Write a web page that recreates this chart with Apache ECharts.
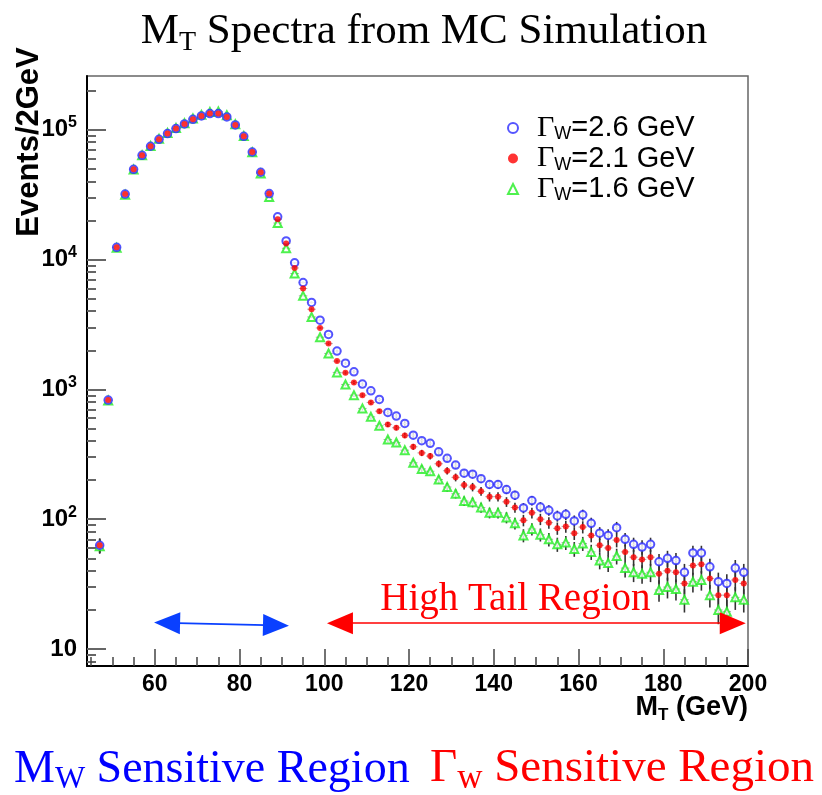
<!DOCTYPE html>
<html>
<head>
<meta charset="utf-8">
<script src="https://cdn.jsdelivr.net/npm/echarts@6/dist/echarts.min.js"></script>
<style>
  html, body { margin: 0; background: #fff; }
  #chart { width: 822px; height: 795px; }
</style>
</head>
<body>
<div id="chart"></div>
<script>
// bin centres (GeV), 2 GeV bins
const binCenters = [47, 49, 51, 53, 55, 57, 59, 61, 63, 65, 67, 69, 71, 73, 75, 77, 79, 81, 83, 85,
  87, 89, 91, 93, 95, 97, 99, 101, 103, 105, 107, 109, 111, 113, 115, 117, 119, 121, 123, 125,
  127, 129, 131, 133, 135, 137, 139, 141, 143, 145, 147, 149, 151, 153, 155, 157, 159, 161, 163, 165,
  167, 169, 171, 173, 175, 177, 179, 181, 183, 185, 187, 189, 191, 193, 195, 197, 199];

// events / 2 GeV for each W width
const gamma26 = [63, 826, 12400, 31900, 49500, 63500, 74500, 84300, 93300, 101900, 110600, 120200, 127500, 133000, 133000, 125300, 108700, 88900, 67300, 47000,
  32200, 21300, 13900, 9420, 6650, 4670, 3410, 2650, 1970, 1590, 1365, 1097, 975, 836, 664, 622, 546, 444, 402, 384,
  330, 294, 261, 226, 222, 205, 185, 185, 169, 153, 122, 139, 124, 117, 106, 109, 97, 108, 93, 78,
  75, 86, 70, 64, 61, 64, 47, 50, 48, 39, 55, 55, 43, 33, 32, 42, 39];
const gamma21 = [63, 826, 12400, 31900, 49500, 63500, 74500, 84300, 93300, 101900, 110600, 120200, 127500, 133000, 133000, 125300, 108700, 88900, 67300, 47000,
  32200, 20400, 13300, 8610, 5980, 4140, 2970, 2250, 1650, 1340, 1130, 902, 793, 679, 537, 506, 442, 361, 324, 306,
  267, 236, 210, 183, 177, 164, 149, 149, 136, 123, 98, 112, 100, 94, 85, 88, 78, 87, 75, 63,
  60, 69, 56, 51, 49, 51, 38, 40, 39, 32, 44, 45, 35, 26, 26, 34, 32];
const gamma16 = [62, 820, 12300, 31500, 49300, 63500, 75000, 85000, 94300, 103000, 112000, 122000, 130000, 137000, 138000, 129000, 110000, 89500, 67000, 46000,
  30300, 19100, 12200, 7800, 5250, 3610, 2520, 1890, 1350, 1090, 902, 713, 614, 524, 411, 390, 340, 272, 244, 234,
  202, 177, 157, 138, 135, 123, 112, 112, 103, 93, 75, 84, 76, 70, 64, 66, 59, 65, 56, 48,
  46, 52, 42, 39, 38, 39, 28.5, 30, 29, 24, 33, 34, 26, 20, 19.4, 25, 24];

const widthLabels = ["2.6", "2.1", "1.6"];
const seriesNames = ["w26", "w21", "w16"];

const xTicks = [60, 80, 100, 120, 140, 160, 180, 200];
const xMinorTicks = [45, 50, 55, 65, 70, 75, 85, 90, 95, 105, 110, 115, 125, 130, 135, 145, 150, 155, 165, 170, 175, 185, 190, 195];
const yTicks = [10, 100, 1000, 10000, 100000];
const yMinorTicks = [8, 9, 20, 30, 40, 50, 60, 70, 80, 90, 200, 300, 400, 500, 600, 700, 800, 900,
  2000, 3000, 4000, 5000, 6000, 7000, 8000, 9000, 20000, 30000, 40000, 50000, 60000, 70000, 80000, 90000, 200000];

// region arrows (GeV, events)
const mwArrow = [[62.9, 15.9], [88.6, 15.2]];
const tailArrow = [[103.7, 15.8], [196.4, 15.8]];

const sans = "Liberation Sans";
const serif = "Liberation Serif";

const chart = echarts.init(document.getElementById("chart"));

function points(values) {
  return binCenters.map((x, i) => [x, values[i]]);
}

// statistical (sqrt N) error bars
function errorBars(values, name) {
  return {
    type: "custom",
    name: name,
    silent: true,
    z: 1,
    data: points(values),
    renderItem: function (params, api) {
      const x = api.value(0);
      const y = api.value(1);
      const e = Math.sqrt(y);
      const hi = api.coord([x, y + e]);
      const lo = api.coord([x, Math.max(y - e, 1)]);
      const l = api.coord([x - 1, y]);
      const r = api.coord([x + 1, y]);
      return {
        type: "group",
        children: [
          { type: "line", shape: { x1: hi[0], y1: hi[1], x2: lo[0], y2: lo[1] }, style: { stroke: "#333", lineWidth: 1.6 } },
          { type: "line", shape: { x1: l[0], y1: l[1], x2: r[0], y2: r[1] }, style: { stroke: "#aaa", lineWidth: 1 } }
        ]
      };
    }
  };
}

function serifRich(color, size, subSize) {
  return {
    m: { fontFamily: serif, fontWeight: "normal", fontSize: size, lineHeight: size + 7, color: color },
    s: { fontFamily: serif, fontWeight: "normal", fontSize: subSize, lineHeight: subSize + 1, verticalAlign: "bottom", color: color }
  };
}

const option = {
  animation: false,
  title: [
    {
      text: "{m|M}{s|T}{m| Spectra from MC Simulation}",
      left: 424, top: 7, textAlign: "center", padding: 0,
      textStyle: { fontWeight: "normal", rich: serifRich("#000", 43, 28) }
    },
    {
      text: "{m|M}{s|W}{m| Sensitive Region}",
      left: 14, top: 743, padding: 0,
      textStyle: { fontWeight: "normal", rich: serifRich("#0000ff", 46, 32) }
    },
    {
      text: "{m|Γ}{s|w}{m| Sensitive Region}",
      left: 430, top: 742, padding: 0,
      textStyle: { fontWeight: "normal", rich: serifRich("#ff0000", 47, 35) }
    },
    {
      text: "{m|M}{s|T}{m| (GeV)}",
      right: 74, top: 692, padding: 0,
      textStyle: {
        rich: {
          m: { fontFamily: sans, fontWeight: "bold", fontSize: 27, lineHeight: 32, color: "#000" },
          s: { fontFamily: sans, fontWeight: "bold", fontSize: 17, lineHeight: 17, verticalAlign: "bottom", color: "#000" }
        }
      }
    }
  ],
  graphic: [
    {
      type: "text", x: 29, y: 142, rotation: Math.PI / 2,
      style: {
        text: "Events/2GeV", fill: "#000",
        font: "bold 31px 'Liberation Sans'",
        align: "center", verticalAlign: "middle",
        textAlign: "center", textVerticalAlign: "middle"
      }
    }
  ],
  legend: {
    orient: "vertical",
    left: 502, top: 108,
    itemWidth: 10, itemHeight: 10, itemGap: 0,
    selectedMode: false,
    data: seriesNames,
    formatter: function (name) {
      const w = widthLabels[seriesNames.indexOf(name)];
      return "{g|Γ}{s|W}{t|=" + w + " GeV}";
    },
    textStyle: {
      padding: [0, 0, 0, 14],
      rich: {
        g: { fontFamily: serif, fontSize: 30, lineHeight: 31, color: "#000" },
        s: { fontFamily: sans, fontSize: 18, lineHeight: 15, verticalAlign: "bottom", color: "#000" },
        t: { fontFamily: sans, fontSize: 29, lineHeight: 31, color: "#000" }
      }
    }
  },
  grid: {
    left: 87, right: 74, top: 76, bottom: 129,
    show: true, borderColor: "#666", borderWidth: 1.5,
    containLabel: false, outerBoundsMode: "none"
  },
  xAxis: [
    {
      type: "value", min: 44, max: 200,
      axisLine: { onZero: false, lineStyle: { color: "#000", width: 2 } },
      axisTick: { inside: true, length: 17, customValues: xTicks, lineStyle: { color: "#444", width: 1.5 } },
      axisLabel: { customValues: xTicks, margin: 7, color: "#000", fontFamily: sans, fontWeight: "bold", fontSize: 23 },
      splitLine: { show: false }
    },
    {
      type: "value", min: 44, max: 200, position: "bottom",
      axisLine: { show: false, onZero: false },
      axisTick: { inside: true, length: 9, customValues: xMinorTicks, lineStyle: { color: "#444", width: 1.5 } },
      axisLabel: { show: false },
      splitLine: { show: false }
    }
  ],
  yAxis: [
    {
      type: "log", min: 7.4, max: 259000,
      axisLine: { onZero: false, lineStyle: { color: "#000", width: 2 } },
      axisTick: { inside: true, length: 19, customValues: yTicks, lineStyle: { color: "#666", width: 2 } },
      axisLabel: {
        customValues: yTicks, margin: 10,
        formatter: function (v) {
          const p = Math.round(Math.log10(v));
          return p === 1 ? "{b|10}" : "{b|10}{p|" + p + "}";
        },
        rich: {
          b: { fontFamily: sans, fontWeight: "bold", fontSize: 24, lineHeight: 30, color: "#000" },
          p: { fontFamily: sans, fontWeight: "bold", fontSize: 16, lineHeight: 16, verticalAlign: "top", color: "#000" }
        }
      },
      splitLine: { show: false }
    },
    {
      type: "log", min: 7.4, max: 259000, position: "left",
      axisLine: { show: false, onZero: false },
      axisTick: { inside: true, length: 9, customValues: yMinorTicks, lineStyle: { color: "#666", width: 2 } },
      axisLabel: { show: false },
      splitLine: { show: false }
    }
  ],
  series: [
    errorBars(gamma16, "err16"),
    errorBars(gamma26, "err26"),
    errorBars(gamma21, "err21"),
    {
      type: "scatter", name: "w16", data: points(gamma16), z: 3,
      symbol: "emptyTriangle", symbolSize: 8,
      itemStyle: { color: "#22ee22", borderWidth: 1.4 }
    },
    {
      type: "scatter", name: "w26", data: points(gamma26), z: 4,
      symbol: "emptyCircle", symbolSize: 7.5,
      itemStyle: { color: "#2a2aff", borderWidth: 1.7 }
    },
    {
      type: "scatter", name: "w21", data: points(gamma21), z: 5,
      symbol: "circle", symbolSize: 6,
      itemStyle: { color: "#ff0000" },
      markLine: {
        silent: true,
        symbol: ["triangle", "triangle"],
        symbolSize: [22, 26],
        data: [
          [
            { coord: mwArrow[0], lineStyle: { color: "#0a40ff", width: 1.6, type: "solid" }, itemStyle: { color: "#0a40ff" }, label: { show: false } },
            { coord: mwArrow[1] }
          ],
          [
            {
              coord: tailArrow[0], lineStyle: { color: "#ff0000", width: 1.6, type: "solid" }, itemStyle: { color: "#ff0000" },
              label: {
                show: true, position: "insideMiddleTop", distance: 4, formatter: "High Tail Region",
                color: "#ff0000", fontFamily: serif, fontSize: 39, padding: [0, 42, 0, 0]
              }
            },
            { coord: tailArrow[1] }
          ]
        ]
      }
    }
  ]
};

chart.setOption(option);
</script>
</body>
</html>
